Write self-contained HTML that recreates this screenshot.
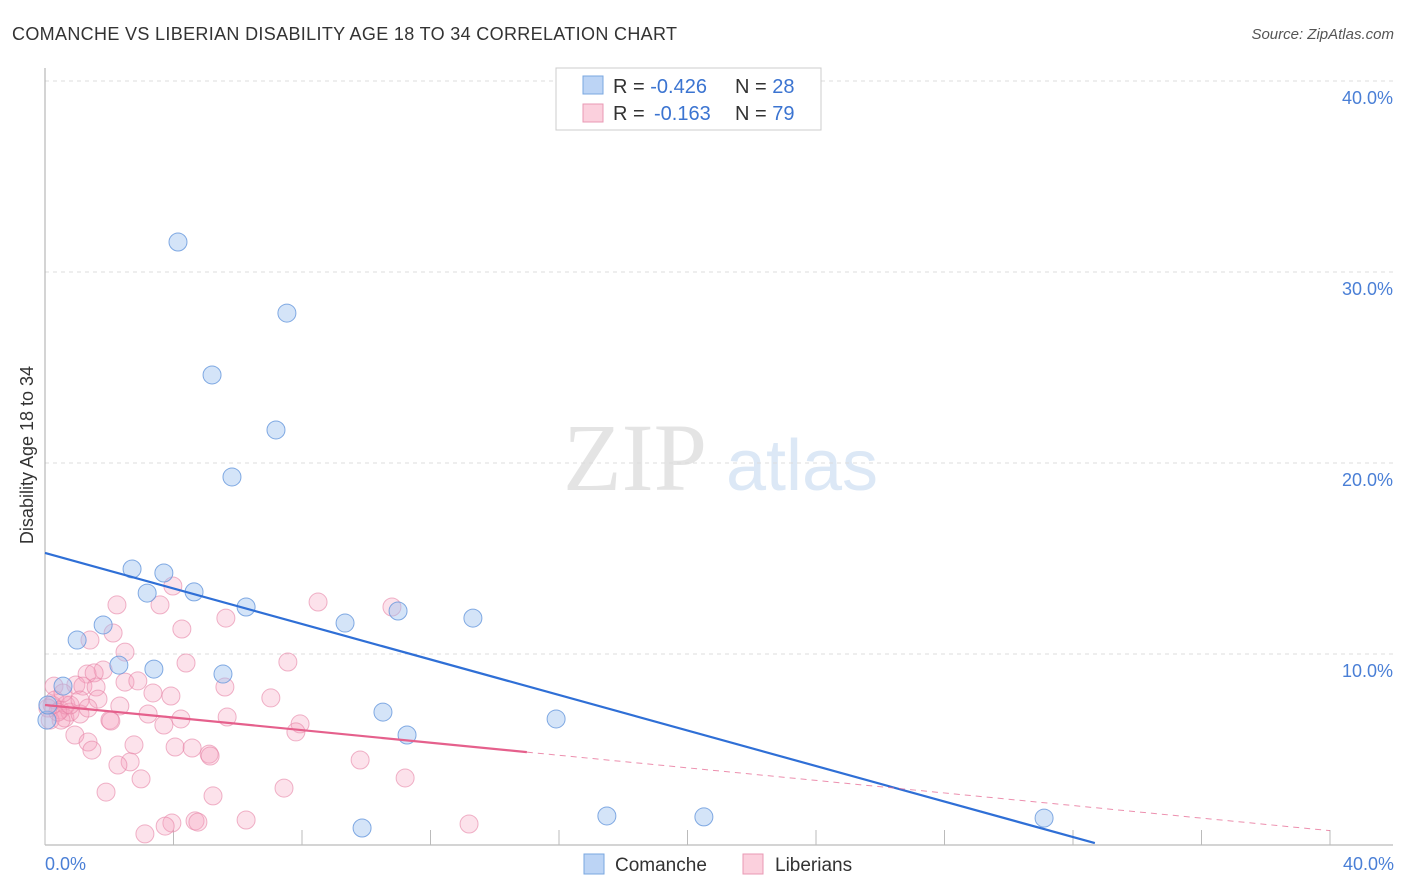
<!DOCTYPE html>
<html><head><meta charset="utf-8"><style>
body{margin:0;background:#fff;font-family:"Liberation Sans",sans-serif;}
#c{position:relative;width:1406px;height:892px;overflow:hidden;}
</style></head><body>
<div id="c">
<svg id="s" width="1406" height="892" xmlns="http://www.w3.org/2000/svg">
<text x="12" y="40" font-size="18" fill="#333" textLength="665" lengthAdjust="spacing">COMANCHE VS LIBERIAN DISABILITY AGE 18 TO 34 CORRELATION CHART</text>
<text x="1394" y="39" font-size="15" fill="#555" font-style="italic" text-anchor="end">Source: ZipAtlas.com</text>
<text x="635" y="490" font-size="96" fill="#e4e4e4" font-family="Liberation Serif,serif" text-anchor="middle">ZIP</text>
<text x="802" y="490" font-size="72" fill="#dce8f6" text-anchor="middle">atlas</text>
<g id="grid"></g><g id="axes"></g><g id="pts"></g><g id="lines"></g>
<text transform="translate(33,455) rotate(-90)" font-size="18" fill="#333" text-anchor="middle">Disability Age 18 to 34</text>
<text x="45" y="870" font-size="18" fill="#4a7fd6">0.0%</text>
<text x="1394" y="870" font-size="18" fill="#4a7fd6" text-anchor="end">40.0%</text>
<g>
<rect x="556" y="68" width="265" height="62" fill="#fff" stroke="#ccc"/>
<rect x="583" y="76" width="20" height="18" fill="#bcd4f5" stroke="#7aa7e0"/>
<rect x="583" y="104" width="20" height="18" fill="#fbd0dd" stroke="#e899b4"/>
<text x="613" y="93" font-size="20" fill="#333">R = <tspan fill="#3b74d1">-0.426</tspan><tspan x="735">N = </tspan><tspan fill="#3b74d1">28</tspan></text>
<text x="613" y="120" font-size="20" fill="#333">R = <tspan fill="#3b74d1" x="654">-0.163</tspan><tspan x="735">N = </tspan><tspan fill="#3b74d1">79</tspan></text>
</g>
<g>
<rect x="584" y="854" width="20" height="20" fill="#bcd4f5" stroke="#7aa7e0"/>
<text x="615" y="871" font-size="19" fill="#333">Comanche</text>
<rect x="743" y="854" width="20" height="20" fill="#fbd0dd" stroke="#e899b4"/>
<text x="775" y="871" font-size="19" fill="#333">Liberians</text>
</g>
</svg>
</div>
<script>
const yTicks=[10,20,30,40];
const yTickLabels=["10.0%","20.0%","30.0%","40.0%"];
const xTicks=[0,4,8,12,16,20,24,28,32,36,40];
const comancheX=[4.14,7.53,5.20,7.19,5.82,2.71,3.70,3.18,4.64,6.26,9.34,10.99,13.32,1.00,1.81,2.30,3.39,5.54,0.56,10.52,11.27,15.91,9.87,17.49,20.51,31.10,0.06,0.09];
const comancheY=[31.57,27.85,24.61,21.73,19.27,14.45,14.24,13.19,13.25,12.46,11.62,12.25,11.88,10.73,11.52,9.42,9.21,8.95,8.32,6.96,5.76,6.60,0.89,1.52,1.47,1.41,6.54,7.33];
const liberianX=[3.98,2.24,3.58,5.63,8.50,10.80,4.26,2.12,1.40,2.49,4.39,7.56,1.81,1.31,1.53,0.96,1.18,1.59,2.49,2.89,0.28,5.60,3.36,3.92,7.03,1.65,2.33,3.21,4.23,5.67,7.94,7.81,3.70,0.31,0.47,0.62,0.78,1.09,0.16,0.93,1.34,1.46,2.77,4.05,4.58,5.11,5.14,2.02,2.05,2.65,2.27,9.81,11.21,2.99,1.90,5.23,7.44,6.26,4.67,3.95,13.20,3.11,3.74,4.76,0.50,0.65,0.22,0.40,0.78,1.09,0.09,1.34,0.56];
const liberianY=[13.56,12.57,12.57,11.88,12.72,12.46,11.31,11.10,10.73,10.10,9.53,9.58,9.16,8.95,9.01,8.38,8.32,8.27,8.53,8.59,8.32,8.27,7.96,7.80,7.70,7.64,7.28,6.86,6.60,6.70,6.34,5.92,6.28,7.59,7.07,6.65,6.96,6.86,6.54,5.76,5.39,4.97,5.24,5.13,5.08,4.76,4.66,6.54,6.49,4.35,4.19,4.45,3.51,3.46,2.77,2.57,2.98,1.31,1.26,1.15,1.10,0.58,0.99,1.20,6.54,7.33,7.33,6.96,7.33,7.59,7.17,7.17,7.96];
const comancheTrend=[[0,15.29],[32.68,0.1]];
const liberianTrend=[[0,7.33],[40,0.75]];
const liberianSolidEnd=15;
const NS='http://www.w3.org/2000/svg';
const X=v=>45+v*32.125, Y=v=>845-v*19.1;
function mk(tag,at,parent){const e=document.createElementNS(NS,tag);for(const k in at)e.setAttribute(k,at[k]);document.getElementById(parent).appendChild(e);return e;}
yTicks.forEach((t,i)=>{
 const l=mk('line',{x1:45,x2:1393,y1:Y(t),y2:Y(t),stroke:'#ddd','stroke-dasharray':'4,4'},'grid');
 
 
 const tx=mk('text',{x:1393,y:Y(t)+23,'font-size':18,fill:'#4a7fd6','text-anchor':'end'},'grid');
 tx.textContent=yTickLabels[i];
 
 
});
let a=mk('line',{x1:45,x2:45,y1:68,y2:845,stroke:'#aaa'},'axes');


a=mk('line',{x1:45,x2:1393,y1:845,y2:845,stroke:'#aaa'},'axes');


xTicks.forEach(t=>{
 const l=mk('line',{x1:X(t),x2:X(t),y1:830,y2:845,stroke:'#bbb'},'axes');
 
 
});
liberianX.forEach((v,i)=>{
 const c=mk('circle',{cx:X(v),cy:Y(liberianY[i]),r:9,fill:'rgba(244,160,188,0.3)',stroke:'rgba(230,130,165,0.6)','stroke-width':1},'pts');
 
 
});
comancheX.forEach((v,i)=>{
 const c=mk('circle',{cx:X(v),cy:Y(comancheY[i]),r:9,fill:'rgba(160,195,240,0.45)',stroke:'rgba(100,150,220,0.8)','stroke-width':1},'pts');
 
 
});
let t=comancheTrend;
let ln=mk('line',{x1:X(t[0][0]),y1:Y(t[0][1]),x2:X(t[1][0]),y2:Y(t[1][1]),stroke:'#2f6fd6','stroke-width':2.2},'lines');


t=liberianTrend;
const ly=x=>t[0][1]+(t[1][1]-t[0][1])*(x-t[0][0])/(t[1][0]-t[0][0]);
ln=mk('line',{x1:X(0),y1:Y(ly(0)),x2:X(liberianSolidEnd),y2:Y(ly(liberianSolidEnd)),stroke:'#e5608c','stroke-width':2.2},'lines');


ln=mk('line',{x1:X(liberianSolidEnd),y1:Y(ly(liberianSolidEnd)),x2:X(40),y2:Y(ly(40)),stroke:'#e5608c','stroke-width':1,'stroke-dasharray':'6,5',opacity:0.7},'lines');


</script>
</body></html>
